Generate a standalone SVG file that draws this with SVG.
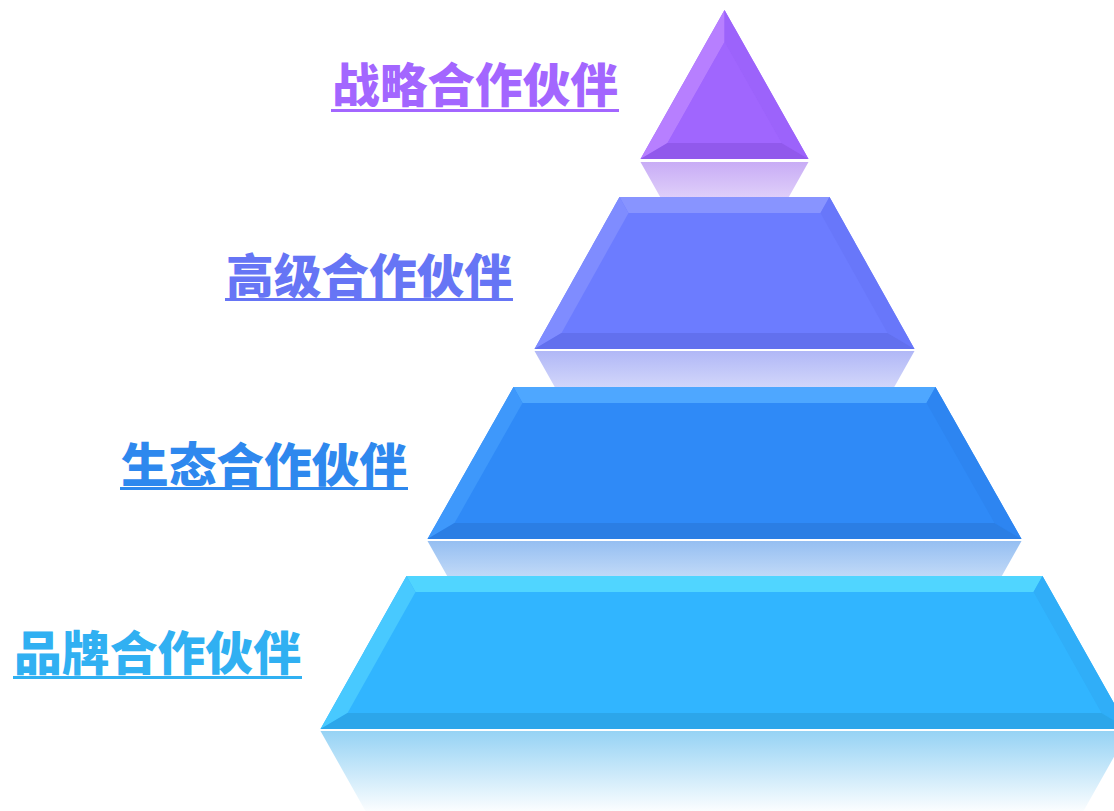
<svg xmlns="http://www.w3.org/2000/svg" width="1114" height="811" viewBox="0 0 1114 811">
<defs>
<style>
.lbl{font-family:"Noto Sans CJK SC","Noto Sans CJK JP",sans-serif;font-weight:900;font-size:47px}
</style>
<linearGradient id="r1" x1="0" y1="0" x2="0" y2="1"><stop offset="0" stop-color="#9159EC" stop-opacity="0.5"/><stop offset="1" stop-color="#9159EC" stop-opacity="0.03"/></linearGradient>
<linearGradient id="r2" x1="0" y1="0" x2="0" y2="1"><stop offset="0" stop-color="#6270EE" stop-opacity="0.5"/><stop offset="1" stop-color="#6270EE" stop-opacity="0.03"/></linearGradient>
<linearGradient id="r3" x1="0" y1="0" x2="0" y2="1"><stop offset="0" stop-color="#2B7EE4" stop-opacity="0.5"/><stop offset="1" stop-color="#2B7EE4" stop-opacity="0.03"/></linearGradient>
<linearGradient id="r4" x1="0" y1="0" x2="0" y2="1"><stop offset="0" stop-color="#2CA6EA" stop-opacity="0.5"/><stop offset="1" stop-color="#2CA6EA" stop-opacity="0.02"/></linearGradient>
</defs>
<rect width="1114" height="811" fill="#ffffff"/>

<g id="tier1">
<polygon points="724.5,10 808.5,159 640.5,159" fill="#A066FE"/>
<polygon points="724.5,10 640.5,159 667.5,143 724.5,42" fill="#B77FFF"/>
<polygon points="724.5,10 808.5,159 781.5,143 724.5,42" fill="#9C63FB"/>
<polygon points="640.5,159 808.5,159 781.5,143 667.5,143" fill="#9159EC"/>
<polygon points="724.5,42 781.5,143 667.5,143" fill="#A066FE"/>
<polygon points="640.5,162 808.5,162 763.5,242 685.5,242" fill="url(#r1)"/>
</g>

<g id="tier2">
<polygon points="619.5,197 829.5,197 914.5,349 534.5,349" fill="#6C7CFF"/>
<polygon points="619.5,197 829.5,197 820.5,213 628.5,213" fill="#8894FF"/>
<polygon points="619.5,197 628.5,213 561.5,333 534.5,349" fill="#7F8CFF"/>
<polygon points="829.5,197 820.5,213 887.5,333 914.5,349" fill="#6877FA"/>
<polygon points="534.5,349 914.5,349 887.5,333 561.5,333" fill="#6270EE"/>
<polygon points="534.5,351 914.5,351 869.5,431 579.5,431" fill="url(#r2)"/>
</g>

<g id="tier3">
<polygon points="513.5,387 935.5,387 1021.5,539 427.5,539" fill="#2F8AF7"/>
<polygon points="513.5,387 935.5,387 926.5,403 522.5,403" fill="#4EA7FF"/>
<polygon points="513.5,387 522.5,403 454.5,523 427.5,539" fill="#3E98FB"/>
<polygon points="935.5,387 926.5,403 994.5,523 1021.5,539" fill="#2D85F1"/>
<polygon points="427.5,539 1021.5,539 994.5,523 454.5,523" fill="#2B7EE4"/>
<polygon points="427.5,541 1021.5,541 976.5,621 472.5,621" fill="url(#r3)"/>
</g>

<g id="tier4">
<polygon points="406.5,576 1042.5,576 1128.5,729 320.5,729" fill="#31B5FF"/>
<polygon points="406.5,576 1042.5,576 1033.5,592 415.5,592" fill="#50D5FF"/>
<polygon points="406.5,576 415.5,592 347.5,713 320.5,729" fill="#48C9FF"/>
<polygon points="1042.5,576 1033.5,592 1101.5,713 1128.5,729" fill="#30AEF8"/>
<polygon points="320.5,729 1128.5,729 1101.5,713 347.5,713" fill="#2CA6EA"/>
<polygon points="320.5,731 1128.5,731 1083.5,811 365.5,811" fill="url(#r4)"/>
</g>

<g id="label1">
<text class="lbl" x="332" y="102" textLength="286" lengthAdjust="spacingAndGlyphs" fill="#A366FF">战略合作伙伴</text>
<rect x="331" y="109" width="288" height="3" fill="#A366FF"/>
</g>
<g id="label2">
<text class="lbl" x="226" y="293" textLength="286" lengthAdjust="spacingAndGlyphs" fill="#6675F5">高级合作伙伴</text>
<rect x="225" y="298" width="288" height="3" fill="#6675F5"/>
</g>
<g id="label3">
<text class="lbl" x="121" y="482" textLength="286" lengthAdjust="spacingAndGlyphs" fill="#2E88EE">生态合作伙伴</text>
<rect x="120" y="487" width="288" height="3" fill="#2E88EE"/>
</g>
<g id="label4">
<text class="lbl" x="14" y="670" textLength="287" lengthAdjust="spacingAndGlyphs" fill="#30B0F2">品牌合作伙伴</text>
<rect x="13" y="676" width="289" height="3" fill="#30B0F2"/>
</g>
</svg>
